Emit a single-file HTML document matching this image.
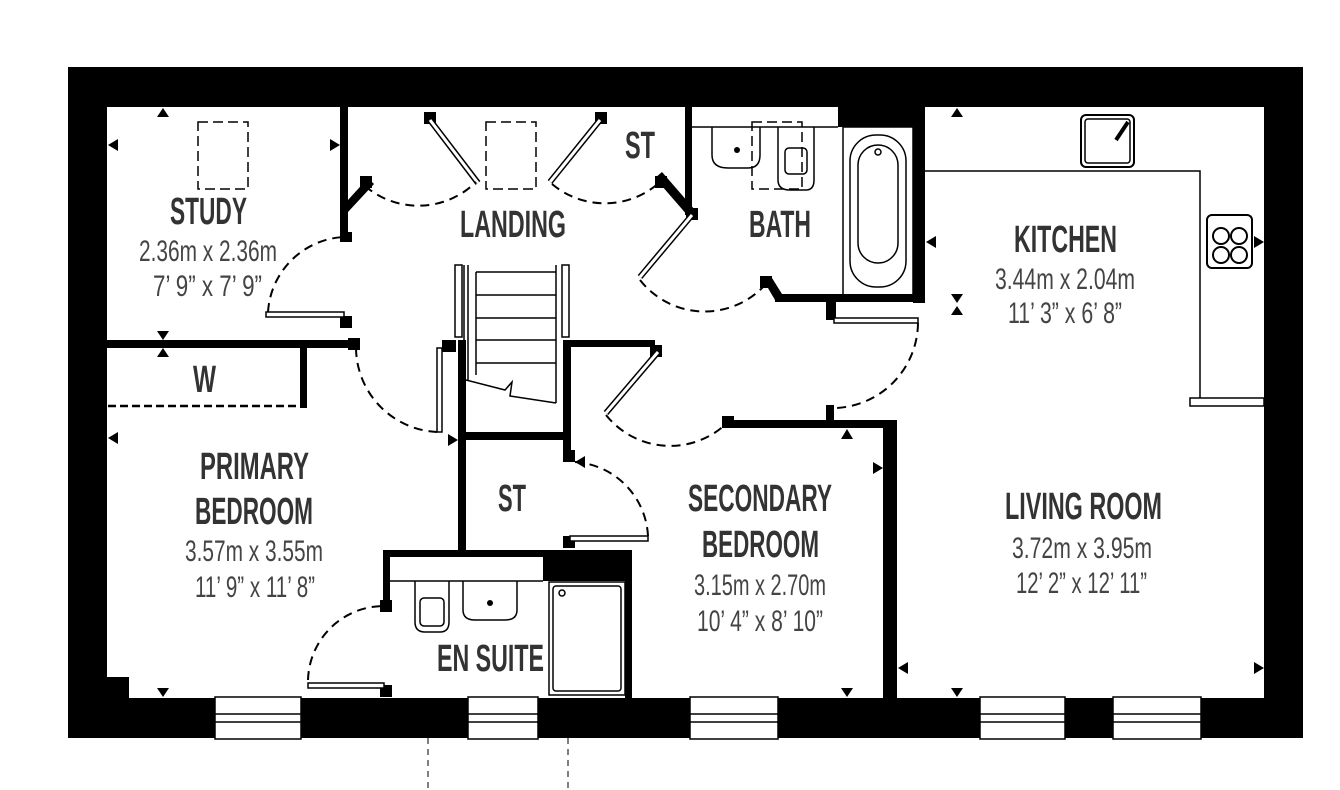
<!DOCTYPE html>
<html><head><meta charset="utf-8"><style>
html,body{margin:0;padding:0;background:#fff;}
svg{display:block;}
.lb{font-family:"Liberation Sans",sans-serif;font-weight:bold;fill:#333;font-size:38px;}
.dm{font-family:"Liberation Sans",sans-serif;fill:#444;font-size:30px;}
.d{fill:none;stroke:#000;stroke-width:2;stroke-dasharray:9,6;}
.t{fill:none;stroke:#000;stroke-width:1.5;}
.lf{fill:#fff;stroke:#000;stroke-width:1.5;}
</style></head><body>
<svg width="1340" height="790" viewBox="0 0 1340 790" xmlns="http://www.w3.org/2000/svg">
<rect width="1340" height="790" fill="#fff"/>
<rect x="68" y="67" width="1235" height="40" fill="#000"/>
<rect x="68" y="67" width="39" height="671" fill="#000"/>
<rect x="68" y="698" width="1235" height="40" fill="#000"/>
<rect x="1264" y="67" width="39" height="671" fill="#000"/>
<rect x="107" y="677" width="22" height="21" fill="#000"/>
<g fill="#fff" stroke="#000" stroke-width="1.5">
<rect x="215" y="697" width="86" height="42"/><rect x="468" y="697" width="70" height="42"/>
<rect x="690" y="697" width="88" height="42"/><rect x="980" y="697" width="85" height="42"/>
<rect x="1113" y="697" width="88" height="42"/>
</g>
<g stroke="#000" stroke-width="1.5">
<line x1="210" y1="714" x2="305" y2="714"/><line x1="210" y1="722" x2="305" y2="722"/>
<line x1="463" y1="714" x2="542" y2="714"/><line x1="463" y1="722" x2="542" y2="722"/>
<line x1="686" y1="714" x2="782" y2="714"/><line x1="686" y1="722" x2="782" y2="722"/>
<line x1="975" y1="714" x2="1069" y2="714"/><line x1="975" y1="722" x2="1069" y2="722"/>
<line x1="1108" y1="714" x2="1205" y2="714"/><line x1="1108" y1="722" x2="1205" y2="722"/>
</g>
<line x1="428" y1="738" x2="428" y2="790" stroke="#000" stroke-width="1" stroke-dasharray="6,5"/>
<line x1="568" y1="738" x2="568" y2="790" stroke="#000" stroke-width="1" stroke-dasharray="6,5"/>
<g fill="#000">
<rect x="340" y="107" width="8" height="130"/>
<rect x="107" y="340" width="250" height="8"/>
<rect x="300" y="347" width="7" height="61"/>
<rect x="458" y="340" width="8" height="212"/>
<rect x="458" y="432" width="112" height="8"/>
<rect x="563" y="340" width="8" height="122"/>
<rect x="563" y="340" width="92" height="7"/>
<rect x="383" y="550" width="249" height="7"/>
<rect x="383" y="550" width="7" height="58"/>
<rect x="625" y="550" width="7" height="148"/>
<rect x="543" y="557" width="89" height="24"/>
<rect x="883" y="420" width="14" height="278"/>
<rect x="730" y="420" width="167" height="8"/>
<rect x="826" y="405" width="8" height="20"/>
<rect x="913" y="107" width="12" height="196"/>
<rect x="838" y="107" width="82" height="20"/>
<rect x="775" y="294" width="150" height="8"/>
<rect x="685" y="107" width="7" height="108"/>
<rect x="826" y="300" width="10" height="20"/>
</g>
<polygon points="765,283 772,278 782,294 775,300" fill="#000"/>
<polygon points="348,200 368,178 374,184 348,212" fill="#000"/>
<polygon points="655,178 662,172 695,210 688,216" fill="#000"/>
<g fill="#000"><rect x="340" y="232" width="12" height="10"/><rect x="340" y="316" width="12" height="12"/><rect x="348" y="338" width="12" height="12"/>
<rect x="442" y="340" width="14" height="12"/><rect x="563" y="450" width="12" height="12"/><rect x="563" y="536" width="12" height="12"/>
<rect x="380" y="600" width="12" height="12"/><rect x="380" y="685" width="12" height="12"/><rect x="650" y="345" width="12" height="12"/>
<rect x="722" y="416" width="12" height="12"/><rect x="424" y="112" width="12" height="12"/><rect x="595" y="112" width="12" height="12"/>
<rect x="360" y="176" width="12" height="12"/><rect x="655" y="176" width="12" height="12"/><rect x="686" y="208" width="12" height="12"/><rect x="760" y="276" width="12" height="12"/></g>
<g class="lf">
<rect x="266" y="312" width="78" height="5"/>
<rect x="437" y="348" width="5" height="84"/>
<rect x="308" y="683" width="76" height="5"/>
<rect x="570" y="536" width="78" height="5"/>
<rect x="834" y="318" width="84" height="5"/>
</g>
<g stroke="#000" stroke-width="6"><line x1="430" y1="120" x2="478" y2="183"/><line x1="600" y1="120" x2="550" y2="182"/>
<line x1="692" y1="215" x2="640" y2="277"/><line x1="658" y1="352" x2="606" y2="413"/></g>
<g stroke="#fff" stroke-width="3"><line x1="430" y1="120" x2="478" y2="183"/><line x1="600" y1="120" x2="550" y2="182"/>
<line x1="692" y1="215" x2="640" y2="277"/><line x1="658" y1="352" x2="606" y2="413"/></g>
<path class="d" d="M268 312 A80 80 0 0 1 344 237"/>
<path class="d" d="M356 348 A85 85 0 0 0 437 432"/>
<path class="d" d="M308 680 A76 76 0 0 1 384 606"/>
<path class="d" d="M648 536 A78 78 0 0 0 575 462"/>
<path class="d" d="M918 323 A86 86 0 0 1 836 408"/>
<path class="d" d="M365 186 A82 82 0 0 0 476 182"/>
<path class="d" d="M552 184 A82 82 0 0 0 660 182"/>
<path class="d" d="M640 280 A82 82 0 0 0 765 285"/>
<path class="d" d="M606 415 A82 82 0 0 0 728 422"/>
<line x1="108" y1="406" x2="300" y2="406" stroke="#000" stroke-width="2.5" stroke-dasharray="8,4"/>
<rect x="198" y="122" width="50" height="67" class="d" style="stroke-width:1.5;stroke-dasharray:10,5"/>
<rect x="486" y="122" width="50" height="67" class="d" style="stroke-width:1.5;stroke-dasharray:10,5"/>
<rect x="752" y="122" width="50" height="67" class="d" style="stroke-width:1.5;stroke-dasharray:10,5"/>
<g class="t">
<rect x="455" y="265" width="7" height="72"/><rect x="562" y="265" width="7" height="72"/>
<line x1="464" y1="265" x2="464" y2="340"/><line x1="468" y1="265" x2="468" y2="380"/><line x1="556" y1="265" x2="556" y2="403"/>
<line x1="476" y1="272" x2="556" y2="272"/><line x1="476" y1="295" x2="556" y2="295"/><line x1="476" y1="318" x2="556" y2="318"/>
<line x1="476" y1="340" x2="556" y2="340"/><line x1="476" y1="363" x2="556" y2="363"/>
<line x1="476" y1="272" x2="476" y2="375"/>
<polyline points="466,380 505,390 512,382 510,396 556,403"/>
</g>
<line x1="692" y1="127" x2="838" y2="127" stroke="#000" stroke-width="1.5"/>
<path class="t" d="M712 127 L712 155 Q712 168 728 168 L748 168 Q760 168 760 155 L760 127"/>
<circle cx="737" cy="150" r="3" fill="#000"/>
<path class="t" d="M778 127 L778 180 Q778 190 790 190 L806 190 Q814 190 814 180 L814 127"/>
<rect x="785" y="148" width="22" height="26" rx="4" class="t"/>
<rect x="843" y="127" width="70" height="168" class="t"/>
<rect x="850" y="135" width="56" height="152" rx="26" class="t"/>
<rect x="858" y="145" width="40" height="118" rx="20" class="t"/>
<circle cx="878" cy="152" r="3" class="t"/>
<line x1="390" y1="581" x2="543" y2="581" stroke="#000" stroke-width="1.5"/>
<path class="t" d="M415 581 L415 622 Q415 632 425 632 L440 632 Q449 632 449 622 L449 581"/>
<rect x="420" y="598" width="24" height="28" rx="4" class="t"/>
<path class="t" d="M463 581 L463 610 Q463 620 475 620 L505 620 Q517 620 517 610 L517 581"/>
<circle cx="490" cy="603" r="3" fill="#000"/>
<rect x="549" y="582" width="76" height="113" class="t"/>
<rect x="553" y="586" width="68" height="105" rx="3" class="t"/>
<circle cx="562" cy="593" r="3" class="t"/>
<polyline points="925,171 1200,171 1200,398" class="t"/>
<rect x="1190" y="398" width="74" height="8" class="lf"/>
<rect x="1081" y="115" width="53" height="52" rx="5" class="t" style="stroke-width:2"/>
<rect x="1085" y="119" width="45" height="44" rx="3" class="t"/>
<line x1="1116" y1="140" x2="1128" y2="122" stroke="#000" stroke-width="4"/>
<rect x="1207" y="215" width="45" height="53" rx="5" class="t" style="stroke-width:2"/>
<circle cx="1221" cy="236" r="8" class="t" style="stroke-width:2"/><circle cx="1239" cy="236" r="8" class="t" style="stroke-width:2"/>
<circle cx="1221" cy="255" r="8" class="t" style="stroke-width:2"/><circle cx="1239" cy="255" r="8" class="t" style="stroke-width:2"/>
<g fill="#000">
<polygon points="163,108 157,117 169,117"/><polygon points="108,145 118,139 118,151"/><polygon points="340,145 330,139 330,151"/>
<polygon points="163,340 157,331 169,331"/><polygon points="163,348 157,357 169,357"/>
<polygon points="108,438 118,432 118,444"/><polygon points="163,697 157,688 169,688"/><polygon points="458,440 448,434 448,446"/>
<polygon points="575,462 585,456 585,468"/><polygon points="847,429 841,439 853,439"/><polygon points="883,468 873,462 873,474"/>
<polygon points="883,668 893,662 893,674"/><polygon points="847,697 841,688 853,688"/>
<polygon points="957,108 951,117 963,117"/><polygon points="926,242 936,236 936,248"/>
<polygon points="957,303 951,294 963,294"/><polygon points="957,306 951,315 963,315"/>
<polygon points="1264,242 1254,236 1254,248"/><polygon points="898,668 908,662 908,674"/>
<polygon points="1264,668 1254,662 1254,674"/><polygon points="957,697 951,688 963,688"/>
</g>
<text class="lb" x="170" y="224" textLength="77" lengthAdjust="spacingAndGlyphs">STUDY</text>
<text class="dm" x="139" y="261" textLength="138" lengthAdjust="spacingAndGlyphs">2.36m x 2.36m</text>
<text class="dm" x="153" y="296" textLength="109" lengthAdjust="spacingAndGlyphs">7’ 9” x 7’ 9”</text>
<text class="lb" x="460" y="237" textLength="106" lengthAdjust="spacingAndGlyphs">LANDING</text>
<text class="lb" x="625" y="158" textLength="30" lengthAdjust="spacingAndGlyphs">ST</text>
<text class="lb" x="749" y="237" textLength="62" lengthAdjust="spacingAndGlyphs">BATH</text>
<text class="lb" x="1014" y="252" textLength="103" lengthAdjust="spacingAndGlyphs">KITCHEN</text>
<text class="dm" x="995" y="289" textLength="140" lengthAdjust="spacingAndGlyphs">3.44m x 2.04m</text>
<text class="dm" x="1008" y="323" textLength="114" lengthAdjust="spacingAndGlyphs">11’ 3” x 6’ 8”</text>
<text class="lb" x="193" y="392" textLength="23" lengthAdjust="spacingAndGlyphs">W</text>
<text class="lb" x="200" y="479" textLength="109" lengthAdjust="spacingAndGlyphs">PRIMARY</text>
<text class="lb" x="195" y="524" textLength="118" lengthAdjust="spacingAndGlyphs">BEDROOM</text>
<text class="dm" x="185" y="561" textLength="138" lengthAdjust="spacingAndGlyphs">3.57m x 3.55m</text>
<text class="dm" x="195" y="597" textLength="120" lengthAdjust="spacingAndGlyphs">11’ 9” x 11’ 8”</text>
<text class="lb" x="498" y="511" textLength="28" lengthAdjust="spacingAndGlyphs">ST</text>
<text class="lb" x="688" y="511" textLength="144" lengthAdjust="spacingAndGlyphs">SECONDARY</text>
<text class="lb" x="702" y="557" textLength="117" lengthAdjust="spacingAndGlyphs">BEDROOM</text>
<text class="dm" x="694" y="595" textLength="132" lengthAdjust="spacingAndGlyphs">3.15m x 2.70m</text>
<text class="dm" x="697" y="631" textLength="126" lengthAdjust="spacingAndGlyphs">10’ 4” x 8’ 10”</text>
<text class="lb" x="1005" y="519" textLength="157" lengthAdjust="spacingAndGlyphs">LIVING ROOM</text>
<text class="dm" x="1012" y="558" textLength="140" lengthAdjust="spacingAndGlyphs">3.72m x 3.95m</text>
<text class="dm" x="1016" y="593" textLength="131" lengthAdjust="spacingAndGlyphs">12’ 2” x 12’ 11”</text>
<text class="lb" x="437" y="671" textLength="107" lengthAdjust="spacingAndGlyphs">EN SUITE</text>
</svg>
</body></html>
